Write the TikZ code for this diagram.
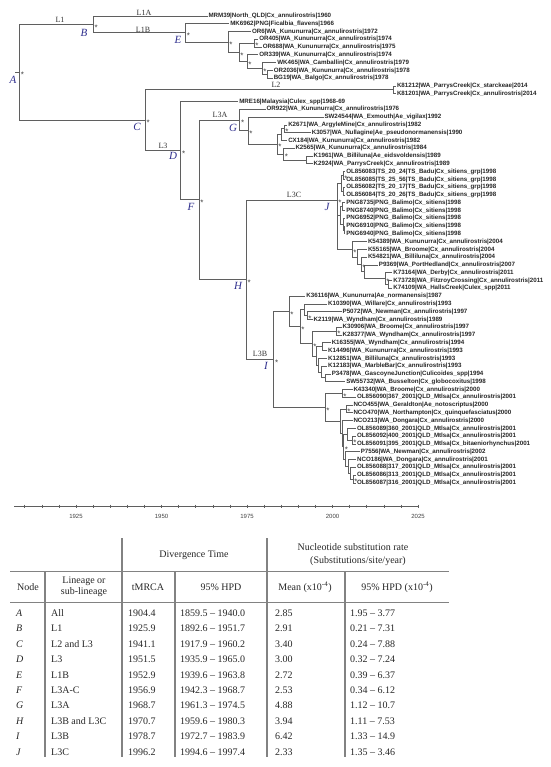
\documentclass[tikz,border=0pt]{standalone}
\usepackage{fontspec}
\setmainfont{Liberation Serif}
\newfontfamily\tipfont{Liberation Sans}
\usetikzlibrary{calc}
\definecolor{branch}{RGB}{95,95,95}
\definecolor{navy}{RGB}{45,45,140}
\definecolor{rulec}{RGB}{130,130,130}
\newcommand\tip[3]{\coordinate (t#1) at ({207.5+(#2-1960)*3.625},{16+7.783*(#1-1)});\node[tiplab] (l#1) at (t#1) {\detokenize{#3}};}
\newcommand\brr[3]{\draw[br] (#1) |- (#2) (#1) |- (#3);}
\newcommand\astk[1]{\node[ast] (s#1) at (#1) {*};}
\begin{document}
\begin{tikzpicture}[x=1pt,y=-1pt,
 br/.style={draw=branch,line width=0.9pt},
 tiplab/.style={anchor=west,inner sep=0.8pt,font=\tipfont\bfseries\fontsize{6.2}{6.2}\selectfont,text=black!85},
 ast/.style={anchor=base west,inner sep=0pt,xshift=1.2pt,yshift=-5.6pt,font=\tipfont\fontsize{8}{8}\selectfont,text=black!75},
 nl/.style={font=\itshape\fontsize{11}{11}\selectfont,text=navy,inner sep=0pt},
 lin/.style={font=\fontsize{8}{8}\selectfont,text=black!80,inner sep=0pt},
 yl/.style={font=\tipfont\fontsize{6}{6}\selectfont,text=black!75,inner sep=0pt},
 th/.style={font=\fontsize{10}{11.5}\selectfont,inner sep=0pt,align=center,text=black!85},
 td/.style={font=\fontsize{10}{12}\selectfont,inner sep=0pt,anchor=west,text=black!85},
 vr/.style={draw=rulec,line width=1.2pt},
 hr/.style={draw=rulec,line width=0.8pt}]
\useasboundingbox (0,0) rectangle (550,767);
% ---------- tips ----------
\tip{1}{1960}{MRM39|North_QLD|Cx_annulirostris|1960}
\tip{2}{1966}{MK6962|PNG|Ficalbia_flavens|1966}
\tip{3}{1972}{OR6|WA_Kununurra|Cx_annulirostris|1972}
\tip{4}{1974}{OR405|WA_Kununurra|Cx_annulirostris|1974}
\tip{5}{1975}{OR688|WA_Kununurra|Cx_annulirostris|1975}
\tip{6}{1974}{OR339|WA_Kununurra|Cx_annulirostris|1974}
\tip{7}{1979}{WK465|WA_Camballin|Cx_annulirostris|1979}
\tip{8}{1978}{OR2036|WA_Kununurra|Cx_annulirostris|1978}
\tip{9}{1978}{BG19|WA_Balgo|Cx_annulirostris|1978}
\tip{10}{2012}{K81212|WA_ParrysCreek|Cx_starckeae|2014}
\tip{11}{2012}{K81201|WA_ParrysCreek|Cx_annulirostris|2014}
\tip{12}{1968.5}{MRE16|Malaysia|Culex_spp|1968-69}
\tip{13}{1976}{OR922|WA_Kununurra|Cx_annulirostris|1976}
\tip{14}{1992}{SW24544|WA_Exmouth|Ae_vigilax|1992}
\tip{15}{1982}{K2671|WA_ArgyleMine|Cx_annulirostris|1982}
\tip{16}{1988.5}{K3057|WA_Nullagine|Ae_pseudonormanensis|1990}
\tip{17}{1982}{CX184|WA_Kununurra|Cx_annulirostris|1982}
\tip{18}{1984}{K2565|WA_Kununurra|Cx_annulirostris|1984}
\tip{19}{1989}{K1961|WA_Billiluna|Ae_eidsvoldensis|1989}
\tip{20}{1989}{K2924|WA_ParrysCreek|Cx_annulirostris|1989}
\tip{21}{1998}{OL856083|TS_20_24|TS_Badu|Cx_sitiens_grp|1998}
\tip{22}{1998}{OL856085|TS_25_56|TS_Badu|Cx_sitiens_grp|1998}
\tip{23}{1998}{OL856082|TS_20_17|TS_Badu|Cx_sitiens_grp|1998}
\tip{24}{1998}{OL856084|TS_20_26|TS_Badu|Cx_sitiens_grp|1998}
\tip{25}{1998}{PNG8735|PNG_Balimo|Cx_sitiens|1998}
\tip{26}{1998}{PNG8740|PNG_Balimo|Cx_sitiens|1998}
\tip{27}{1998}{PNG6952|PNG_Balimo|Cx_sitiens|1998}
\tip{28}{1998}{PNG6910|PNG_Balimo|Cx_sitiens|1998}
\tip{29}{1998}{PNG6940|PNG_Balimo|Cx_sitiens|1998}
\tip{30}{2004}{K54389|WA_Kununurra|Cx_annulirostris|2004}
\tip{31}{2004}{K55165|WA_Broome|Cx_annulirostris|2004}
\tip{32}{2004}{K54821|WA_Billiluna|Cx_annulirostris|2004}
\tip{33}{2007}{P9369|WA_PortHedland|Cx_annulirostris|2007}
\tip{34}{2011}{K73164|WA_Derby|Cx_annulirostris|2011}
\tip{35}{2011}{K73728|WA_FitzroyCrossing|Cx_annulirostris|2011}
\tip{36}{2011}{K74109|WA_HallsCreek|Culex_spp|2011}
\tip{37}{1987}{K36116|WA_Kununurra|Ae_normanensis|1987}
\tip{38}{1993}{K10390|WA_Willare|Cx_annulirostris|1993}
\tip{39}{1997}{P5072|WA_Newman|Cx_annulirostris|1997}
\tip{40}{1989}{K2119|WA_Wyndham|Cx_annulirostris|1989}
\tip{41}{1997}{K30906|WA_Broome|Cx_annulirostris|1997}
\tip{42}{1997}{K28377|WA_Wyndham|Cx_annulirostris|1997}
\tip{43}{1994}{K16355|WA_Wyndham|Cx_annulirostris|1994}
\tip{44}{1993}{K14496|WA_Kununurra|Cx_annulirostris|1993}
\tip{45}{1993}{K12851|WA_Billiluna|Cx_annulirostris|1993}
\tip{46}{1993}{K12183|WA_MarbleBar|Cx_annulirostris|1993}
\tip{47}{1994}{P3478|WA_GascoyneJunction|Culicoides_spp|1994}
\tip{48}{1998}{SW55732|WA_Busselton|Cx_globocoxitus|1998}
\tip{49}{2000}{K43340|WA_Broome|Cx_annulirostris|2000}
\tip{50}{2001}{OL856090|367_2001|QLD_Mtlsa|Cx_annulirostris|2001}
\tip{51}{2000}{NCO455|WA_Geraldton|Ae_notoscriptus|2000}
\tip{52}{2000}{NCO470|WA_Northampton|Cx_quinquefasciatus|2000}
\tip{53}{2000}{NCO213|WA_Dongara|Cx_annulirostris|2000}
\tip{54}{2001}{OL856089|360_2001|QLD_Mtlsa|Cx_annulirostris|2001}
\tip{55}{2001}{OL856092|400_2001|QLD_Mtlsa|Cx_annulirostris|2001}
\tip{56}{2001}{OL856091|395_2001|QLD_Mtlsa|Cx_bitaeniorhynchus|2001}
\tip{57}{2002}{P7556|WA_Newman|Cx_annulirostris|2002}
\tip{58}{2001}{NCO186|WA_Dongara|Cx_annulirostris|2001}
\tip{59}{2001}{OL856088|317_2001|QLD_Mtlsa|Cx_annulirostris|2001}
\tip{60}{2001}{OL856086|313_2001|QLD_Mtlsa|Cx_annulirostris|2001}
\tip{61}{2001}{OL856087|316_2001|QLD_Mtlsa|Cx_annulirostris|2001}
% ---------- internal nodes ----------
\coordinate (root) at (15,72.4);
\coordinate (A) at (19.5,72.4);
\coordinate (B) at (93.1,24.45);
\coordinate (E) at (185.4,32.9);
\coordinate (e1) at (228,42.0);
\coordinate (e2) at (239,52.5);
\coordinate (e2a) at (254,43.24);
\coordinate (e3) at (247,61.7);
\coordinate (e4) at (262,68.55);
\coordinate (e5) at (267,74.37);
\coordinate (C) at (145.1,120.3);
\coordinate (c2) at (393.5,89.94);
\coordinate (D) at (180.6,150.7);
\coordinate (F) at (199,199.8);
\coordinate (G) at (239.8,120.1);
\coordinate (g1) at (248,130.8);
\coordinate (g2) at (277,144.4);
\coordinate (g3) at (281,134.7);
\coordinate (g3a) at (284,128.86);
\coordinate (g4) at (283.5,154.2);
\coordinate (g5) at (306,159.99);
\coordinate (H) at (246.3,279.5);
\coordinate (J) at (337,200);
\coordinate (ts) at (341,183.3);
\coordinate (ta) at (343,175.55);
\coordinate (tb) at (343,191.12);
\coordinate (pn) at (340,215.44);
\coordinate (pa) at (342,206.69);
\coordinate (pb) at (343,224.19);
\coordinate (pc) at (344,230.03);
\coordinate (kc) at (352,249.4);
\coordinate (k2) at (357,257.0);
\coordinate (k3) at (361,264.6);
\coordinate (k4) at (364,271.9);
\coordinate (k5) at (385,278.7);
\coordinate (k6) at (388,284.5);
\coordinate (I) at (273.7,359.4);
\coordinate (i1) at (289,311.4);
\coordinate (i1b) at (300,326.7);
\coordinate (i1c) at (304,309.8);
\coordinate (i1e) at (307,315.65);
\coordinate (i1d) at (312,343.6);
\coordinate (i1f) at (336,331.2);
\coordinate (i1g) at (316,356.0);
\coordinate (i1h) at (322,346.78);
\coordinate (i1i) at (318,365.3);
\coordinate (i1j) at (321,372.1);
\coordinate (i1k) at (325,377.91);
\coordinate (i2) at (325,407.4);
\coordinate (i2a) at (342,393.48);
\coordinate (i2b) at (340,421.37);
\coordinate (i2c) at (346,409.04);
\coordinate (i2d) at (342,433.7);
\coordinate (i2e) at (343.5,446.7);
\coordinate (i2f) at (347,434.3);
\coordinate (i2h) at (352,440.17);
\coordinate (i2g) at (345,459.1);
\coordinate (i2j) at (348,466.44);
\coordinate (i2k) at (350,473.25);
\coordinate (i2l) at (353,479.09);
% ---------- branches ----------
\draw[br] (A) -- (root);
\brr{A}{B}{C}
\brr{B}{t1}{E}
\brr{E}{t2}{e1}
\brr{e1}{t3}{e2}
\brr{e2}{e2a}{e3}
\brr{e2a}{t4}{t5}
\brr{e3}{t6}{e4}
\brr{e4}{t7}{e5}
\brr{e5}{t8}{t9}
\brr{C}{c2}{D}
\brr{c2}{t10}{t11}
\brr{D}{t12}{F}
\brr{F}{G}{H}
\brr{G}{t13}{g1}
\brr{g1}{t14}{g2}
\brr{g2}{g3}{g4}
\brr{g3}{g3a}{t17}
\brr{g3a}{t15}{t16}
\brr{g4}{t18}{g5}
\brr{g5}{t19}{t20}
\brr{H}{J}{I}
\brr{J}{ts}{pn}
\draw[br] (J) |- (kc);
\brr{ts}{ta}{tb}
\brr{ta}{t21}{t22}
\brr{tb}{t23}{t24}
\brr{pn}{pa}{pb}
\brr{pa}{t25}{t26}
\brr{pb}{t27}{pc}
\brr{pc}{t28}{t29}
\brr{kc}{t30}{k2}
\brr{k2}{t31}{k3}
\brr{k3}{t32}{k4}
\brr{k4}{t33}{k5}
\brr{k5}{t34}{k6}
\brr{k6}{t35}{t36}
\brr{I}{i1}{i2}
\brr{i1}{t37}{i1b}
\brr{i1b}{i1c}{i1d}
\brr{i1c}{t38}{i1e}
\brr{i1e}{t39}{t40}
\brr{i1d}{i1f}{i1g}
\brr{i1f}{t41}{t42}
\brr{i1g}{i1h}{i1i}
\brr{i1h}{t43}{t44}
\brr{i1i}{t45}{i1j}
\brr{i1j}{t46}{i1k}
\brr{i1k}{t47}{t48}
\brr{i2}{i2a}{i2b}
\brr{i2a}{t49}{t50}
\brr{i2b}{i2c}{i2d}
\brr{i2c}{t51}{t52}
\brr{i2d}{t53}{i2e}
\brr{i2e}{i2f}{i2g}
\brr{i2f}{t54}{i2h}
\brr{i2h}{t55}{t56}
\brr{i2g}{t57}{i2j}
\brr{i2j}{t58}{i2k}
\brr{i2k}{t59}{i2l}
\brr{i2l}{t60}{t61}
% ---------- posterior marks ----------
\foreach \q in {A,B,E,e1,e2,e3,e4,e2a,C,D,F,G,g1,g2,g4,g3a,H,J,ta,kc,k3,k5,I,i1,i1b,i1e,i1f,i1d,i2,i2a,i2c,i2e,i2h,i2l}{\astk{\q}}
% ---------- node letters ----------
\node[nl] (LA) at (13,80) {A};
\node[nl] (LB) at (84,33) {B};
\node[nl] (LE) at (178,40) {E};
\node[nl] (LC) at (137,127) {C};
\node[nl] (LD) at (173,156) {D};
\node[nl] (LF) at (191,207) {F};
\node[nl] (LG) at (233,128) {G};
\node[nl] (LH) at (238,286) {H};
\node[nl] (LI) at (266,366) {I};
\node[nl] (LJ) at (327,207) {J};
% ---------- lineage labels ----------
\node[lin] (L1) at (60,20) {L1};
\node[lin] (L1A) at (144,12.5) {L1A};
\node[lin] (L1B) at (143,29.5) {L1B};
\node[lin] (L2) at (276,85) {L2};
\node[lin] (L3) at (163,146) {L3};
\node[lin] (L3A) at (220,114.5) {L3A};
\node[lin] (L3C) at (294,195) {L3C};
\node[lin] (L3B) at (260,354) {L3B};
% ---------- time axis ----------
\draw[draw=branch,line width=1pt] (14,506) -- (418,506);
\foreach \yy in {1910,1915,...,2025}{\draw[draw=branch,line width=0.5pt] ({76+(\yy-1925)*3.42},504.5) -- ({76+(\yy-1925)*3.42},507.5);}
\foreach \yy in {1925,1950,1975,2000,2025}{\node[yl] (yl\yy) at ({76+(\yy-1925)*3.42},516) {\yy};}
% ---------- table ----------
\draw[vr] (122,538) -- (122,757);
\draw[vr] (267,538) -- (267,757);
\draw[vr] (45,571) -- (45,757);
\draw[vr] (175,571) -- (175,757);
\draw[vr] (345,571) -- (345,757);
\draw[hr] (10,571) -- (449,571);
\draw[hr] (10,602) -- (449,602);
\node[th] (hdt) at (194,555) {Divergence Time};
\node[th] (hns) at (353,547) {Nucleotide substitution rate};
\node[th] (hsu) at (358,561) {(Substitutions/site/year)};
\node[th] (hnode) at (28,587) {Node};
\node[th] (hlin) at (84,587) {Lineage or\\sub-lineage};
\node[th] (htm) at (148,587) {tMRCA};
\node[th] (hhpd) at (221,587) {95\% HPD};
\node[th] (hmean) at (305,587) {Mean (x10\textsuperscript{-4})};
\node[th] (hhpd2) at (397,587) {95\% HPD (x10\textsuperscript{-4})};
\foreach \n/\lg/\tm/\hp/\mn/\hq [count=\i from 0] in {
 A/All/1904.4/1859.5 – 1940.0/2.85/1.95 – 3.77,
 B/L1/1925.9/1892.6 – 1951.7/2.91/0.21 – 7.31,
 C/L2 and L3/1941.1/1917.9 – 1960.2/3.40/0.24 – 7.88,
 D/L3/1951.5/1935.9 – 1965.0/3.00/0.32 – 7.24,
 E/L1B/1952.9/1939.6 – 1963.8/2.72/0.39 – 6.37,
 F/L3A-C/1956.9/1942.3 – 1968.7/2.53/0.34 – 6.12,
 G/L3A/1968.7/1961.3 – 1974.5/4.88/1.12 – 10.7,
 H/L3B and L3C/1970.7/1959.6 – 1980.3/3.94/1.11 – 7.53,
 I/L3B/1978.7/1972.7 – 1983.9/6.42/1.33 – 14.9,
 J/L3C/1996.2/1994.6 – 1997.4/2.33/1.35 – 3.46}{
 \node[td,font=\itshape\fontsize{10}{12}\selectfont] (rn\i) at (16,{613+15.45*\i}) {\n};
 \node[td] (rl\i) at (51,{613+15.45*\i}) {\lg};
 \node[td] (rt\i) at (128,{613+15.45*\i}) {\tm};
 \node[td] (rh\i) at (180,{613+15.45*\i}) {\hp};
 \node[td] (rm\i) at (275,{613+15.45*\i}) {\mn};
 \node[td] (rq\i) at (350,{613+15.45*\i}) {\hq};
}
\end{tikzpicture}
\end{document}
